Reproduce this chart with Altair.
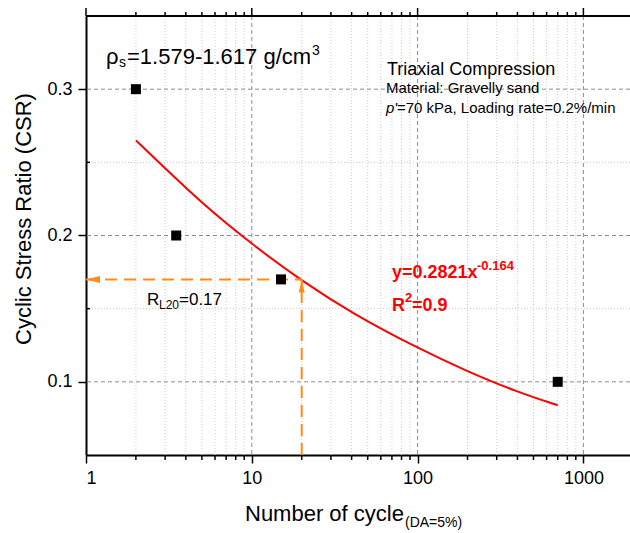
import altair as alt
import pandas as pd

# Cyclic triaxial tests: cycles to reach DA = 5 % and the applied CSR
cycles = [2, 3.5, 15, 700]
csr = [0.30, 0.20, 0.17, 0.10]

# Power-law fit line, sampled along its length
fit_cycles = [2, 3, 5, 10, 20, 40, 100, 200, 400, 700]
fit_csr = [0.265, 0.246, 0.222, 0.194, 0.169, 0.147, 0.123, 0.107, 0.093, 0.084]

# Resistance read at 20 cycles
n_ref = 20
csr_ref = 0.17

# Axis ranges, ticks and grid positions
x_domain = [1, 1910]
y_domain = [0.05, 0.35]
x_labels = [1, 10, 100, 1000]
x_major = [10, 100, 1000]
x_minor = [2, 3, 4, 5, 6, 7, 8, 9, 20, 30, 40, 50, 60, 70, 80, 90,
           200, 300, 400, 500, 600, 700, 800, 900]
y_major = [0.1, 0.2, 0.3]
y_minor = [0.15, 0.25]

W, H = 544, 439
FONT = "Liberation Sans"
ORANGE = "#FF8C1A"
RED = "#FF0000"

xs = alt.Scale(type="log", domain=x_domain, nice=False)
ys = alt.Scale(domain=y_domain, nice=False, zero=False)

# One axis definition shared by every layer so the layers merge cleanly
x_axis = alt.Axis(values=x_labels, format="d", title=None, grid=False,
                  tickSize=8, labelPadding=6)
y_axis = alt.Axis(values=y_major, format=".1f", title=None, grid=False,
                  tickSize=8, labelPadding=6)


def xq(field):
    return alt.X(f"{field}:Q", scale=xs, axis=x_axis)


def yq(field):
    return alt.Y(f"{field}:Q", scale=ys, axis=y_axis)


# --- grid -------------------------------------------------------------
vgrid_minor = alt.Chart(pd.DataFrame({"v": x_minor})).mark_rule(
    color="#cccccc", strokeWidth=1, strokeDash=[1, 2]).encode(x=xq("v"))
hgrid_minor = alt.Chart(pd.DataFrame({"v": y_minor})).mark_rule(
    color="#cccccc", strokeWidth=1, strokeDash=[1, 2]).encode(y=yq("v"))
vgrid_major = alt.Chart(pd.DataFrame({"v": x_major})).mark_rule(
    color="#8c8c8c", strokeWidth=1, strokeDash=[4, 3]).encode(x=xq("v"))
hgrid_major = alt.Chart(pd.DataFrame({"v": y_major})).mark_rule(
    color="#8c8c8c", strokeWidth=1, strokeDash=[4, 3]).encode(y=yq("v"))

# --- frame: top edge and extra tick marks --------------------------------
top_edge = alt.Chart(pd.DataFrame({"a": [0]})).mark_rule(
    color="black", strokeWidth=2).encode(
    x=alt.value(0), x2=alt.value(W), y=alt.value(0))
top_major = alt.Chart(pd.DataFrame({"v": x_labels})).mark_rule(
    color="black", strokeWidth=1.5).encode(
    x=xq("v"), y=alt.value(0), y2=alt.value(-8))
top_minor = alt.Chart(pd.DataFrame({"v": x_minor})).mark_rule(
    color="black", strokeWidth=1.5).encode(
    x=xq("v"), y=alt.value(0), y2=alt.value(-4))
bottom_minor = alt.Chart(pd.DataFrame({"v": x_minor})).mark_rule(
    color="black", strokeWidth=1.5).encode(
    x=xq("v"), y=alt.value(H), y2=alt.value(H + 5))
left_minor = alt.Chart(pd.DataFrame({"v": y_minor})).mark_rule(
    color="black", strokeWidth=1.5).encode(
    y=yq("v"), x=alt.value(0), x2=alt.value(4))

# --- fit curve ----------------------------------------------------------
fit = alt.Chart(pd.DataFrame({"N": fit_cycles, "CSR": fit_csr})).mark_line(
    color=RED, strokeWidth=2, interpolate="basis").encode(
    x=xq("N"), y=yq("CSR"))

# --- guide arrows at 20 cycles ---------------------------------------------
guide = pd.DataFrame({"n0": [x_domain[0]], "n": [n_ref],
                      "c0": [y_domain[0]], "c": [csr_ref]})
h_guide = alt.Chart(guide).mark_rule(
    color=ORANGE, strokeWidth=2, strokeDash=[12, 7]).encode(
    x=xq("n0"), x2="n:Q", y=yq("c"))
v_guide = alt.Chart(guide).mark_rule(
    color=ORANGE, strokeWidth=2, strokeDash=[12, 7]).encode(
    x=xq("n"), y=yq("c0"), y2="c:Q")
head_left = alt.Chart(guide).mark_point(
    shape="M0,0L2,-0.5L2,0.5Z", size=196, filled=True, color=ORANGE,
    opacity=1).encode(x=xq("n0"), y=yq("c"))
head_up = alt.Chart(guide).mark_point(
    shape="M0,0L-0.45,2L0.45,2Z", size=169, filled=True, color=ORANGE,
    opacity=1).encode(x=xq("n"), y=yq("c"))

# --- measured points ------------------------------------------------------
points = alt.Chart(pd.DataFrame({"N": cycles, "CSR": csr})).mark_point(
    shape="square", size=100, filled=True, color="black", opacity=1).encode(
    x=xq("N"), y=yq("CSR"))


# --- text ---------------------------------------------------------------
def label(text, x, y, size, color="black", weight="normal", style="normal",
          angle=0, align="left", baseline="alphabetic"):
    return alt.Chart(pd.DataFrame({"t": [text]})).mark_text(
        font=FONT, fontSize=size, color=color, fontWeight=weight,
        fontStyle=style, angle=angle, align=align, baseline=baseline).encode(
        x=alt.value(x), y=alt.value(y), text="t:N")


texts = [
    # density range
    label("\u03c1", 20, 48, 22),
    label("s", 33, 51, 14),
    label("=1.579-1.617 g/cm", 41, 48, 22),
    label("3", 226, 39, 14),
    # test conditions
    label("Triaxial Compression", 301, 59, 18),
    label("Material: Gravelly sand", 300, 77, 15),
    label("p'", 300, 97, 15, style="italic"),
    label("=70 kPa, Loading rate=0.2%/min", 311, 97, 15),
    # fit equation
    label("y=0.2821x", 306, 262, 18, color=RED, weight="bold"),
    label("-0.164", 391, 254, 13, color=RED, weight="bold"),
    label("R", 306, 295, 18, color=RED, weight="bold"),
    label("2", 319, 286, 13, color=RED, weight="bold"),
    label("=0.9", 326, 295, 18, color=RED, weight="bold"),
    # resistance at 20 cycles
    label("R", 61, 289, 17),
    label("L20", 73, 293, 12),
    label("=0.17", 93, 289, 17),
    # axis titles
    label("Number of cycle", 159, 505, 22),
    label("(DA=5%)", 319, 511, 14),
    label("Cyclic Stress Ratio (CSR)", -62, 203, 22, angle=270,
          align="center", baseline="middle"),
]

chart = alt.layer(
    vgrid_minor, hgrid_minor, vgrid_major, hgrid_major,
    fit, h_guide, v_guide, head_left, head_up, points,
    top_edge, top_major, top_minor, bottom_minor, left_minor,
    *texts,
).properties(
    width=W, height=H,
    autosize=alt.AutoSizeParams(type="none"),
    padding={"left": 86, "top": 16, "right": 0, "bottom": 78},
    background="white",
).configure_view(stroke=None).configure_axis(
    domainColor="black", domainWidth=2, tickColor="black", tickWidth=1.5,
    labelFont=FONT, labelFontSize=18, labelColor="black",
)

chart.save("out.html", embed_options={"renderer": "svg", "actions": False})
